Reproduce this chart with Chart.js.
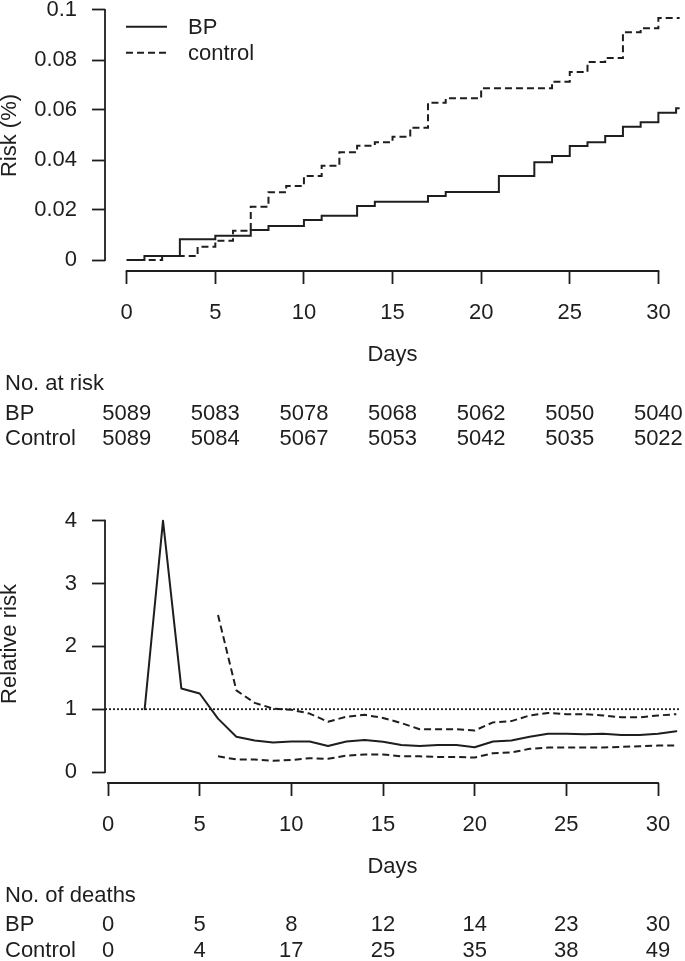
<!DOCTYPE html>
<html>
<head>
<meta charset="utf-8">
<script src="https://cdn.jsdelivr.net/npm/chart.js@4.4.1/dist/chart.umd.min.js"></script>
<style>
  body { margin: 0; background: #fff; width: 685px; height: 961px; overflow: hidden; position: relative;
         font-family: "Liberation Sans", Arial, sans-serif; color: #1e1e1e; }
  canvas { position: absolute; left: 0; }
  .num { position: absolute; font-size: 22px; line-height: 22px; white-space: nowrap; transform: translate(-50%, -50%); }
  .row { position: absolute; left: 5px; font-size: 22px; line-height: 22px; white-space: nowrap; transform: translateY(-50%); }
</style>
</head>
<body>
<canvas id="riskChart" width="685" height="375" style="top:0"></canvas>
<canvas id="rrChart" width="685" height="380" style="top:505px"></canvas>
<div id="tables"></div>
<script>
// ---- data ----
const tickDays = [0, 5, 10, 15, 20, 25, 30];
const riskTicks = [0, 0.02, 0.04, 0.06, 0.08, 0.1];
const rrTicks = [0, 1, 2, 3, 4];

// cumulative risk, step changes (day, level from that day on)
const bpStepDays = [0, 1, 3, 5, 7, 8, 10, 11, 13, 14, 17, 18, 21, 23, 24, 25, 26, 27, 28, 29, 30, 31];
const bpRisk = [0, 0.0016, 0.0083, 0.0097, 0.012, 0.0136, 0.016, 0.0177, 0.0216, 0.0233, 0.0256,
  0.0272, 0.0336, 0.0391, 0.0416, 0.0456, 0.0471, 0.0496, 0.0533, 0.0551, 0.0589, 0.0607];
const ctlStepDays = [0, 2, 4, 5, 6, 7, 8, 9, 10, 11, 12, 13, 14, 15, 16, 17, 18, 20, 24, 25, 26, 27, 28, 29, 30];
const ctlRisk = [0, 0.0016, 0.0053, 0.0077, 0.0117, 0.0213, 0.0271, 0.0296, 0.0336, 0.0377, 0.0431,
  0.0457, 0.0471, 0.0493, 0.0529, 0.0629, 0.0647, 0.0687, 0.0713, 0.0752, 0.0792, 0.0808, 0.0911, 0.0927, 0.0968];
const followUpEnd = 31.2;

const atRiskBP = [5089, 5083, 5078, 5068, 5062, 5050, 5040];
const atRiskControl = [5089, 5084, 5067, 5053, 5042, 5035, 5022];

// relative risk by day, with confidence limits
const rrDays = [2, 3, 4, 5, 6, 7, 8, 9, 10, 11, 12, 13, 14, 15, 16, 17, 18, 19, 20, 21, 22, 23, 24, 25, 26, 27, 28, 29, 30, 31];
const rrValues = [1.0, 4.0, 1.33, 1.25, 0.85, 0.56, 0.50, 0.47, 0.485, 0.485, 0.415, 0.485, 0.51, 0.48, 0.43,
  0.415, 0.43, 0.43, 0.395, 0.485, 0.50, 0.56, 0.61, 0.61, 0.60, 0.61, 0.59, 0.59, 0.61, 0.65];
const ciDays = [6, 7, 8, 9, 10, 11, 12, 13, 14, 15, 16, 17, 18, 19, 20, 21, 22, 23, 24, 25, 26, 27, 28, 29, 30, 31];
const rrUpper = [2.50, 1.30, 1.10, 1.01, 0.99, 0.93, 0.80, 0.88, 0.91, 0.86, 0.78, 0.68, 0.68, 0.68, 0.66,
  0.79, 0.81, 0.90, 0.94, 0.92, 0.92, 0.90, 0.87, 0.87, 0.90, 0.92];
const rrLower = [0.25, 0.20, 0.20, 0.18, 0.19, 0.22, 0.21, 0.26, 0.28, 0.28, 0.25, 0.25, 0.24, 0.24, 0.23,
  0.30, 0.31, 0.37, 0.39, 0.39, 0.39, 0.39, 0.40, 0.41, 0.42, 0.42];
const refLevel = 1;

const deathsBP = [0, 5, 8, 12, 14, 23, 30];
const deathsControl = [0, 4, 17, 25, 35, 38, 49];

// ---- styling ----
const ink = "#1e1e1e";
const dash = [7, 4];
const fontPx = 22;
Chart.defaults.font.family = '"Liberation Sans", Arial, sans-serif';
Chart.defaults.font.size = fontPx;
Chart.defaults.color = ink;
Chart.defaults.animation = false;

const pts = (xs, ys) => xs.map((d, i) => ({ x: d, y: ys[i] }));

// R style axes: line only from first to last tick
const rAxes = {
  id: "rAxes",
  afterDraw(chart) {
    const { ctx, chartArea, scales: { x, y } } = chart;
    const xt = x.ticks, yt = y.ticks;
    ctx.save();
    ctx.strokeStyle = ink;
    ctx.lineWidth = 1.8;
    ctx.beginPath();
    ctx.moveTo(x.getPixelForValue(xt[0].value) - 0.9, chartArea.bottom);
    ctx.lineTo(x.getPixelForValue(xt[xt.length - 1].value) + 0.9, chartArea.bottom);
    ctx.moveTo(chartArea.left, y.getPixelForValue(yt[0].value) + 0.9);
    ctx.lineTo(chartArea.left, y.getPixelForValue(yt[yt.length - 1].value) - 0.9);
    ctx.stroke();
    ctx.restore();
  }
};

const riskLegend = {
  id: "riskLegend",
  afterDraw(chart) {
    const ctx = chart.ctx;
    ctx.save();
    chart.data.datasets.forEach((ds, i) => {
      const ly = 26.7 + i * 26;
      ctx.strokeStyle = ink;
      ctx.lineWidth = ds.borderWidth;
      ctx.setLineDash(ds.borderDash || []);
      ctx.beginPath();
      ctx.moveTo(126, ly);
      ctx.lineTo(167, ly);
      ctx.stroke();
      ctx.setLineDash([]);
      ctx.fillStyle = ink;
      ctx.font = fontPx + 'px "Liberation Sans", Arial, sans-serif';
      ctx.textBaseline = "middle";
      ctx.fillText(ds.label, 188, ly + 1.5);
    });
    ctx.restore();
  }
};

const refLine = {
  id: "refLine",
  beforeDatasetsDraw(chart) {
    const { ctx, chartArea, scales: { y } } = chart;
    const py = y.getPixelForValue(refLevel);
    ctx.save();
    ctx.strokeStyle = ink;
    ctx.lineWidth = 1.8;
    ctx.setLineDash([2, 2]);
    ctx.beginPath();
    ctx.moveTo(chartArea.left, py);
    ctx.lineTo(chartArea.right, py);
    ctx.stroke();
    ctx.restore();
  }
};

function axes(opt) {
  const f = { size: fontPx, lineHeight: 1 };
  return {
    x: {
      type: "linear", min: opt.xMin, max: opt.xMax,
      afterBuildTicks: (s) => { s.ticks = tickDays.map((v) => ({ value: v })); },
      afterFit: (s) => { s.height = opt.xHeight; s.paddingLeft = 0; s.paddingRight = 0; },
      grid: { drawOnChartArea: false, tickLength: 13, tickWidth: 1.8, color: ink },
      border: { display: false },
      ticks: { padding: 18, maxRotation: 0, font: f },
      title: { display: true, text: "Days", font: f, padding: { top: 0, bottom: opt.titlePad } }
    },
    y: {
      type: "linear", min: opt.yMin, max: opt.yMax,
      afterBuildTicks: (s) => { s.ticks = opt.yTicks.map((v) => ({ value: v })); },
      afterFit: (s) => { s.width = 105; s.paddingTop = 0; s.paddingBottom = 0; },
      grid: { drawOnChartArea: false, tickLength: 13, tickWidth: 1.8, color: ink },
      border: { display: false },
      ticks: { padding: 15, font: f, callback: (v) => String(v) },
      title: { display: true, text: opt.yTitle, font: f, padding: { top: -1, bottom: 0 } }
    }
  };
}

const lineStyle = { borderColor: ink, borderWidth: 2, pointRadius: 0, borderJoinStyle: "round", borderCapStyle: "round" };

const riskChart = new Chart(document.getElementById("riskChart"), {
  type: "line",
  data: {
    datasets: [
      { label: "BP", data: pts(bpStepDays.concat([followUpEnd]), bpRisk.concat([bpRisk[bpRisk.length - 1]])),
        stepped: "before", ...lineStyle, borderJoinStyle: "miter", borderCapStyle: "butt" },
      { label: "control", data: pts(ctlStepDays.concat([followUpEnd]), ctlRisk.concat([ctlRisk[ctlRisk.length - 1]])),
        stepped: "before", ...lineStyle, borderJoinStyle: "miter", borderCapStyle: "butt", borderDash: dash }
    ]
  },
  options: {
    responsive: false,
    layout: { padding: { top: 0, right: 5, left: 0, bottom: 0 } },
    plugins: { legend: { display: false }, tooltip: { enabled: false } },
    scales: axes({ xMin: -1.225, xMax: 31.22, yMin: -0.0044, yMax: 0.104, yTicks: riskTicks,
      xHeight: 104, titlePad: 9, yTitle: "Risk (%)" })
  },
  plugins: [rAxes, riskLegend]
});

const rrChart = new Chart(document.getElementById("rrChart"), {
  type: "line",
  data: {
    datasets: [
      { label: "RR", data: pts(rrDays, rrValues), ...lineStyle },
      { label: "upper", data: pts(ciDays, rrUpper), ...lineStyle, borderCapStyle: "butt", borderDash: dash },
      { label: "lower", data: pts(ciDays, rrLower), ...lineStyle, borderCapStyle: "butt", borderDash: dash }
    ]
  },
  options: {
    responsive: false,
    layout: { padding: { top: 0, right: 5, left: 0, bottom: 0 } },
    plugins: { legend: { display: false }, tooltip: { enabled: false } },
    scales: axes({ xMin: -0.164, xMax: 31.2, yMin: -0.175, yMax: 4.25, yTicks: rrTicks,
      xHeight: 102, titlePad: 7, yTitle: "Relative risk" })
  },
  plugins: [rAxes, refLine]
});

// number tables under each chart, aligned with the day ticks
const tables = document.getElementById("tables");
function addRow(text, top) {
  tables.insertAdjacentHTML("beforeend", `<div class="row" style="top:${top}px">${text}</div>`);
}
function addNumbers(chart, values, top) {
  const xs = chart.scales.x;
  values.forEach((v, i) => {
    const left = xs.getPixelForValue(tickDays[i]);
    tables.insertAdjacentHTML("beforeend", `<div class="num" style="left:${left}px;top:${top}px">${v}</div>`);
  });
}
addRow("No. at risk", 382.5);
addRow("BP", 413);
addRow("Control", 438);
addNumbers(riskChart, atRiskBP, 413);
addNumbers(riskChart, atRiskControl, 438);

addRow("No. of deaths", 895);
addRow("BP", 924);
addRow("Control", 950);
addNumbers(rrChart, deathsBP, 924);
addNumbers(rrChart, deathsControl, 950);
</script>
</body>
</html>
